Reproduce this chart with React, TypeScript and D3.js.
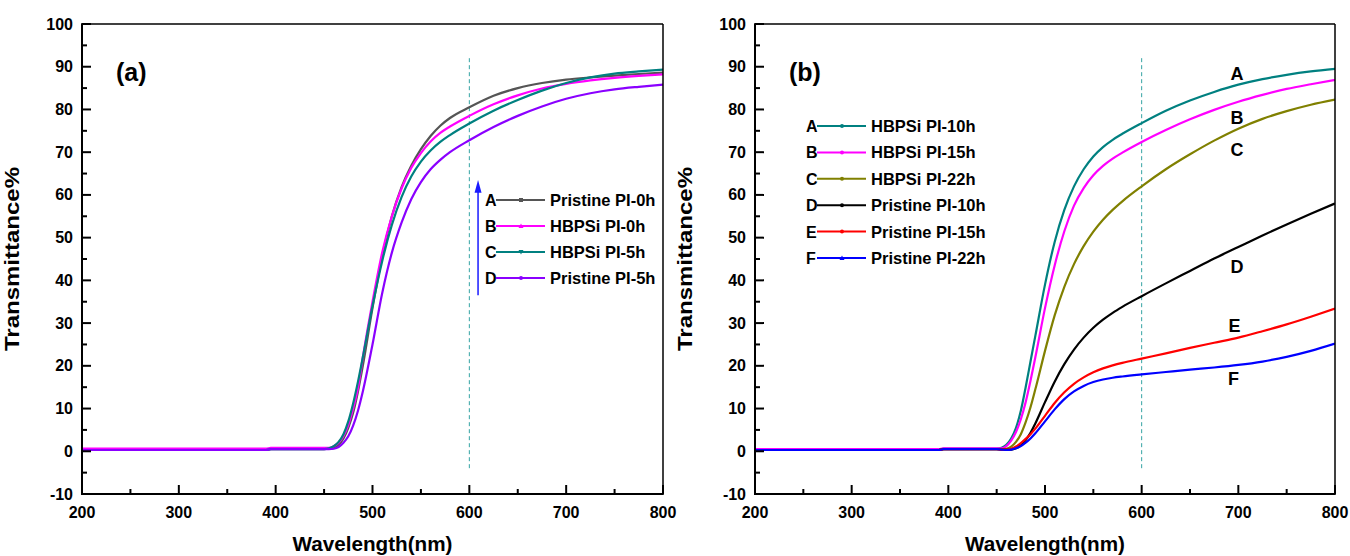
import * as d3 from 'd3';

// wavelength grid (nm) shared by all curves
const wavelengths = [200, 300, 390, 395, 450, 455, 460, 465, 470, 475, 480, 485, 490, 500, 510, 520, 530, 540, 550, 560, 570, 580, 600, 625, 650, 675, 700, 725, 750, 775, 800];

// panel (a)
const aPristine0h = [0.3, 0.3, 0.3, 0.5, 0.5, 0.6, 0.8, 1.5, 3, 5.5, 9, 14, 20, 33.5, 45.5, 55, 61.8, 66.8, 70.7, 73.8, 76.2, 78, 80.5, 83.2, 85, 86.2, 87, 87.5, 87.9, 88.3, 88.6];
const aHbpsi0h = [0.6, 0.6, 0.6, 0.8, 0.8, 0.8, 1.2, 2, 3.6, 6.2, 10, 14.8, 22, 35, 46.5, 55, 61.5, 66.3, 69.8, 72.5, 74.5, 76, 78.5, 81.2, 83.3, 84.9, 86, 86.8, 87.4, 87.85, 88.2];
const aHbpsi5h = [0.3, 0.3, 0.3, 0.5, 0.5, 0.7, 1.2, 2.2, 4, 7, 11.2, 16.3, 22, 34, 44.5, 53, 59.5, 64.3, 67.8, 70.4, 72.4, 74, 76.7, 79.7, 82.2, 84.4, 86.2, 87.5, 88.4, 88.9, 89.3];
const aPristine5h = [0.3, 0.3, 0.3, 0.5, 0.5, 0.5, 0.6, 1, 2, 3.5, 6, 9.5, 14, 25, 37, 46.5, 53.5, 59, 63, 66, 68.2, 70, 72.8, 75.9, 78.5, 80.7, 82.5, 83.8, 84.7, 85.3, 85.8];

// panel (b)
const bHbpsi10h = [0.3, 0.3, 0.3, 0.6, 0.6, 0.8, 1.5, 3, 5.5, 9.5, 15, 21, 27, 39, 49, 56.5, 62, 66, 69, 71.2, 72.9, 74.3, 76.8, 79.7, 82.1, 84.1, 85.8, 87.1, 88.1, 88.9, 89.5];
const bHbpsi15h = [0.5, 0.5, 0.5, 0.7, 0.7, 0.7, 1.2, 2.5, 4.5, 7.5, 11.5, 16.5, 22, 33.5, 43.5, 51.5, 57.5, 61.6, 64.6, 66.8, 68.5, 69.9, 72.4, 75.2, 77.7, 79.9, 81.8, 83.4, 84.8, 85.9, 86.9];
const bHbpsi22h = [0.3, 0.3, 0.3, 0.5, 0.5, 0.5, 0.6, 1.1, 2.2, 4, 6.8, 10.3, 14.5, 23.5, 31.8, 38.5, 43.8, 48, 51.4, 54.2, 56.5, 58.5, 62, 66, 69.5, 72.7, 75.5, 77.8, 79.6, 81.1, 82.3];
const bPristine10h = [0.3, 0.3, 0.3, 0.5, 0.5, 0.4, 0.4, 0.4, 0.7, 1.4, 2.6, 4.3, 6.5, 11.5, 16.3, 20.4, 23.8, 26.6, 28.9, 30.8, 32.4, 33.8, 36.3, 39.3, 42.2, 45.1, 47.8, 50.5, 53.1, 55.6, 58];
const bPristine15h = [0.3, 0.3, 0.3, 0.5, 0.5, 0.4, 0.4, 0.6, 1.1, 1.9, 2.9, 4, 5.3, 8.3, 11.3, 13.8, 15.8, 17.3, 18.5, 19.4, 20.1, 20.7, 21.7, 22.9, 24.2, 25.4, 26.6, 28.1, 29.7, 31.5, 33.4];
const bPristine22h = [0.3, 0.3, 0.3, 0.5, 0.5, 0.4, 0.3, 0.4, 0.7, 1.2, 2, 3, 4.2, 7, 9.8, 12.2, 14, 15.3, 16.2, 16.8, 17.2, 17.5, 18, 18.55, 19.1, 19.6, 20.2, 21, 22.1, 23.5, 25.2];

const xMajor = [200, 300, 400, 500, 600, 700, 800];
const xMinor = [250, 350, 450, 550, 650, 750];
const yMajor = [-10, 0, 10, 20, 30, 40, 50, 60, 70, 80, 90, 100];
const yMinor = [-5, 5, 15, 25, 35, 45, 55, 65, 75, 85, 95];

const seriesA = [
  { key: 'A', name: 'Pristine PI-0h', color: '#555555', values: aPristine0h, marker: 'square' },
  { key: 'B', name: 'HBPSi PI-0h', color: '#ff00ff', values: aHbpsi0h, marker: 'up' },
  { key: 'C', name: 'HBPSi PI-5h', color: '#008080', values: aHbpsi5h, marker: 'down' },
  { key: 'D', name: 'Pristine PI-5h', color: '#8a00ff', values: aPristine5h, marker: 'circle' },
];

const seriesB = [
  { key: 'A', name: 'HBPSi PI-10h', color: '#008080', values: bHbpsi10h, marker: 'circle' },
  { key: 'B', name: 'HBPSi PI-15h', color: '#ff00ff', values: bHbpsi15h, marker: 'circle' },
  { key: 'C', name: 'HBPSi PI-22h', color: '#808000', values: bHbpsi22h, marker: 'circle' },
  { key: 'D', name: 'Pristine PI-10h', color: '#000000', values: bPristine10h, marker: 'circle' },
  { key: 'E', name: 'Pristine PI-15h', color: '#ff0000', values: bPristine15h, marker: 'circle' },
  { key: 'F', name: 'Pristine PI-22h', color: '#0000ff', values: bPristine22h, marker: 'up' },
];

// curve letters in panel (b): wavelength, value of the text baseline
const curveLabelsB = [
  { key: 'A', w: 698.5, v: 87 },
  { key: 'B', w: 698.5, v: 76.5 },
  { key: 'C', w: 698.5, v: 69 },
  { key: 'D', w: 698.5, v: 41.8 },
  { key: 'E', w: 696, v: 27.8 },
  { key: 'F', w: 695, v: 15.6 },
];

const FONT = '"Liberation Sans", Arial, Helvetica, sans-serif';
const TOP = 24;
const BOTTOM = 494;

type Series = { key: string; name: string; color: string; values: number[]; marker: string };

function Marker({ type, x, y, color }: { type: string; x: number; y: number; color: string }) {
  if (type === 'square') return <rect x={x - 2} y={y - 2} width={4} height={4} fill={color} />;
  if (type === 'up') return <path d={`M${x},${y - 2.5}L${x + 2.5},${y + 2}L${x - 2.5},${y + 2}Z`} fill={color} />;
  if (type === 'down') return <path d={`M${x},${y + 2.5}L${x + 2.5},${y - 2}L${x - 2.5},${y - 2}Z`} fill={color} />;
  return <circle cx={x} cy={y} r={2} fill={color} />;
}

function Panel({ id, left, right, series, label, legendX, legendY, legendGap }: {
  id: string; left: number; right: number; series: Series[]; label: string;
  legendX: number; legendY: number; legendGap: number;
}) {
  const x = d3.scaleLinear().domain([200, 800]).range([left, right]);
  const y = d3.scaleLinear().domain([-10, 100]).range([BOTTOM, TOP]);
  const line = d3.line<[number, number]>()
    .x(d => x(d[0]))
    .y(d => y(d[1]))
    .curve(d3.curveMonotoneX);

  return (
    <g>
      <defs>
        <clipPath id={`clip-${id}`}>
          <rect x={left} y={TOP} width={right - left} height={BOTTOM - TOP} />
        </clipPath>
      </defs>

      {/* dashed reference at 600 nm */}
      <line x1={x(600)} x2={x(600)} y1={y(92)} y2={y(-4.5)} stroke="#33a3a3" strokeWidth={1} strokeDasharray="4,3" />

      <g clipPath={`url(#clip-${id})`}>
        {series.map(s => (
          <path key={s.key} d={line(wavelengths.map((w, i) => [w, s.values[i]] as [number, number])) || ''}
            fill="none" stroke={s.color} strokeWidth={2.2} />
        ))}
      </g>

      {/* frame */}
      <line x1={left} x2={right} y1={TOP} y2={TOP} stroke="#000" strokeWidth={1.5} />
      <line x1={right} x2={right} y1={TOP} y2={BOTTOM} stroke="#000" strokeWidth={1.5} />
      <line x1={left} x2={left} y1={TOP - 0.75} y2={BOTTOM + 1} stroke="#000" strokeWidth={2} />
      <line x1={left - 1} x2={right + 0.75} y1={BOTTOM} y2={BOTTOM} stroke="#000" strokeWidth={2} />

      {/* ticks, pointing inward */}
      {yMajor.map(t => (
        <g key={`ym${t}`}>
          <line x1={left} x2={left + 9} y1={y(t)} y2={y(t)} stroke="#000" strokeWidth={2} />
          <text x={left - 9} y={y(t) + 5.5} textAnchor="end" fontSize={16} fontWeight="bold" fontFamily={FONT}>{t}</text>
        </g>
      ))}
      {yMinor.map(t => (
        <line key={`yn${t}`} x1={left} x2={left + 5} y1={y(t)} y2={y(t)} stroke="#000" strokeWidth={2} />
      ))}
      {xMajor.map(t => (
        <g key={`xm${t}`}>
          <line x1={x(t)} x2={x(t)} y1={BOTTOM} y2={BOTTOM - 9} stroke="#000" strokeWidth={2} />
          <text x={x(t)} y={BOTTOM + 24} textAnchor="middle" fontSize={16} fontWeight="bold" fontFamily={FONT}>{t}</text>
        </g>
      ))}
      {xMinor.map(t => (
        <line key={`xn${t}`} x1={x(t)} x2={x(t)} y1={BOTTOM} y2={BOTTOM - 5} stroke="#000" strokeWidth={2} />
      ))}

      {/* axis titles */}
      <text x={(left + right) / 2} y={551} textAnchor="middle" fontSize={20} fontWeight="bold" fontFamily={FONT}
        textLength={160} lengthAdjust="spacingAndGlyphs">Wavelength(nm)</text>
      <text transform={`translate(${left - 63},${(TOP + BOTTOM) / 2}) rotate(-90)`} textAnchor="middle"
        fontSize={20} fontWeight="bold" fontFamily={FONT} textLength={184} lengthAdjust="spacingAndGlyphs">Transmittance%</text>

      {/* panel label */}
      <text x={left + 34} y={81} fontSize={25} fontWeight="bold" fontFamily={FONT}>{label}</text>

      {/* legend */}
      {series.map((s, i) => {
        const ly = legendY + i * legendGap;
        return (
          <g key={`lg${s.key}`}>
            <text x={legendX} y={ly + 6} fontSize={16} fontWeight="bold" fontFamily={FONT}>{s.key}</text>
            <line x1={legendX + 11} x2={legendX + 60} y1={ly} y2={ly} stroke={s.color} strokeWidth={2} />
            <Marker type={s.marker} x={legendX + 36} y={ly} color={s.color} />
            <text x={legendX + 65} y={ly + 6} fontSize={16.5} fontWeight="bold" fontFamily={FONT}>{s.name}</text>
          </g>
        );
      })}
    </g>
  );
}

export default function App() {
  const xa = d3.scaleLinear().domain([200, 800]).range([82, 663]);
  const ya = d3.scaleLinear().domain([-10, 100]).range([BOTTOM, TOP]);
  const xb = d3.scaleLinear().domain([200, 800]).range([755, 1335]);
  const arrowX = xa(609);

  return (
    <svg width={1350} height={556} style={{ position: 'absolute', left: 0, top: 0, background: '#fff' }}>
      <rect width={1350} height={556} fill="#fff" />
      <Panel id="a" left={82} right={663} series={seriesA} label="(a)" legendX={485} legendY={200} legendGap={26} />
      <Panel id="b" left={755} right={1335} series={seriesB} label="(b)" legendX={806} legendY={126} legendGap={26.4} />

      {/* arrow in panel (a) */}
      <line x1={arrowX} x2={arrowX} y1={ya(36.5)} y2={ya(61)} stroke="#1a1aff" strokeWidth={1.5} />
      <path d={`M${arrowX},${ya(63.5)}L${arrowX + 3.5},${ya(60.5)}L${arrowX - 3.5},${ya(60.5)}Z`} fill="#1a1aff" />

      {/* curve letters in panel (b) */}
      {curveLabelsB.map(l => (
        <text key={l.key} x={xb(l.w)} y={ya(l.v)} textAnchor="middle" fontSize={18} fontWeight="bold" fontFamily={FONT}>{l.key}</text>
      ))}
    </svg>
  );
}
